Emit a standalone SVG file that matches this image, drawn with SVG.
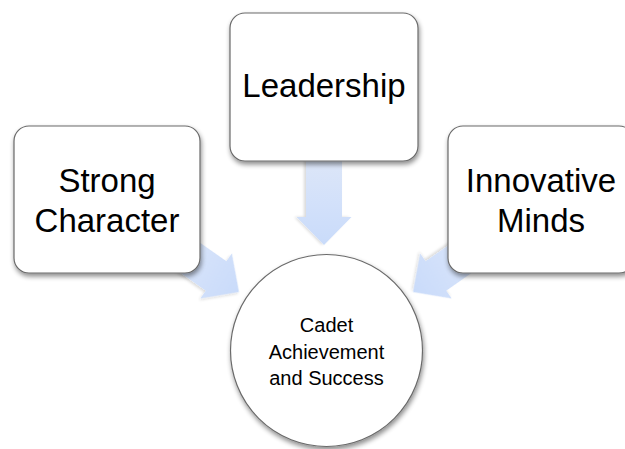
<svg xmlns="http://www.w3.org/2000/svg" width="625" height="449" viewBox="0 0 625 449">
<defs>
<linearGradient id="ag" x1="0" y1="0" x2="1" y2="0">
<stop offset="0" stop-color="#e2e9f6"/>
<stop offset="0.6" stop-color="#d3e1fa"/>
<stop offset="1" stop-color="#c9dbfa"/>
</linearGradient>
<filter id="sh" x="-10%" y="-10%" width="125%" height="130%">
<feGaussianBlur in="SourceAlpha" stdDeviation="2.5"/>
<feOffset dx="1" dy="3" result="b"/>
<feComponentTransfer><feFuncA type="linear" slope="0.45"/></feComponentTransfer>
<feMerge><feMergeNode/><feMergeNode in="SourceGraphic"/></feMerge>
</filter>
<filter id="ash" x="-10%" y="-10%" width="125%" height="130%">
<feGaussianBlur in="SourceAlpha" stdDeviation="1.5"/>
<feOffset dx="0" dy="1.5" result="b"/>
<feComponentTransfer><feFuncA type="linear" slope="0.15"/></feComponentTransfer>
<feMerge><feMergeNode/><feMergeNode in="SourceGraphic"/></feMerge>
</filter>
<polygon id="arr" points="0,0 -28,-27.5 -28,-18 -110,-18 -110,18 -28,18 -28,27.5"/>
</defs>
<style>
.box{fill:#ffffff;stroke:#6a6a6a;stroke-width:1.2;filter:url(#sh)}
.arrow{fill:url(#ag);filter:url(#ash)}
.big{font-family:"Liberation Sans",Arial,sans-serif;font-size:33px;fill:#000;text-anchor:middle}
.small{font-family:"Liberation Sans",Arial,sans-serif;font-size:20px;fill:#000;text-anchor:middle}
</style>
<rect width="625" height="449" fill="#ffffff"/>
<g id="connectors">
<use href="#arr" class="arrow" transform="translate(324,245) rotate(90)"/>
<use href="#arr" class="arrow" transform="translate(239,292) rotate(35)"/>
<use href="#arr" class="arrow" transform="translate(413,292) rotate(145)"/>
</g>
<g id="node-strong-character">
<rect class="box" x="14" y="126" width="186" height="147" rx="15"/>
<text class="big" x="107" y="192">Strong</text>
<text class="big" x="107" y="232">Character</text>
</g>
<g id="node-leadership">
<rect class="box" x="230" y="13" width="188" height="148" rx="15"/>
<text class="big" x="324" y="97">Leadership</text>
</g>
<g id="node-innovative-minds">
<rect class="box" x="448" y="126" width="186" height="147" rx="15"/>
<text class="big" x="541" y="192">Innovative</text>
<text class="big" x="541" y="232">Minds</text>
</g>
<g id="node-cadet">
<circle class="box" cx="326.5" cy="350.5" r="96"/>
<text class="small" x="326.5" y="332">Cadet</text>
<text class="small" x="326.5" y="358.5">Achievement</text>
<text class="small" x="326.5" y="385">and Success</text>
</g>
</svg>
